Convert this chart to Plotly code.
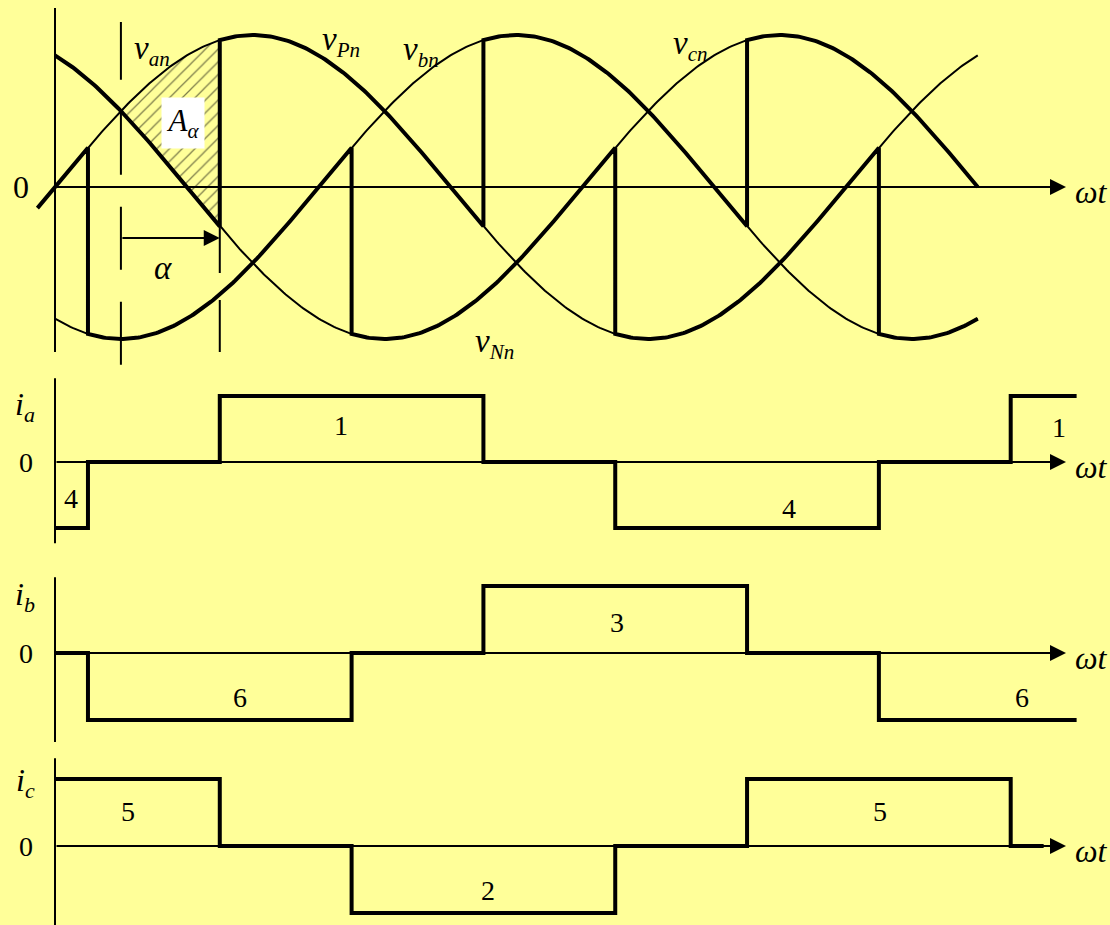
import numpy as np
import plotly.graph_objects as go

W, H = 1110, 925
BG = "#FFFF99"
FONT = "Liberation Serif"

# horizontal scale: x in electrical degrees
X_PX0 = 55          # pixel of wt = 0
PX_PER_DEG = 2.197

# phase voltages (per unit amplitude), firing delay
PHASE_SHIFT = {"a": 0, "b": 120, "c": 240}
ALPHA = 45
T_END = 420

# conducting phase of the upper (P) and lower (N) groups: (from, to, phase)
VPN_SEGMENTS = [(0, 75, "c"), (75, 195, "a"), (195, 315, "b"), (315, 420, "c")]
VNN_SEGMENTS = [(-8, 15, "a"), (15, 135, "b"), (135, 255, "c"), (255, 375, "a"), (375, 420, "b")]

# line currents (step breakpoints, per unit)
IA_T = [0, 15, 75, 195, 255, 375, 435, 465]
IA_V = [-1, 0, 1, 0, -1, 0, 1, 1]
IB_T = [0, 15, 135, 195, 315, 375, 465]
IB_V = [0, -1, 0, 1, 0, -1, -1]
IC_T = [0, 75, 135, 255, 315, 435, 450]
IC_V = [1, 0, -1, 0, 1, 0, 0]

# thyristor numbers shown in each current block
IA_LABELS = [("4", 7.5, -0.55), ("1", 130, 0.55), ("4", 334, -0.70), ("1", 457, 0.52)]
IB_LABELS = [("6", 84, -0.66), ("3", 256, 0.46), ("6", 440, -0.66)]
IC_LABELS = [("5", 33, 0.51), ("2", 197, -0.66), ("5", 375.5, 0.51)]

# panels: (axis name, zero pixel, pixels per unit)
PANELS = {"v": ("y", 187, 152), "ia": ("y2", 462, 66), "ib": ("y3", 653, 67), "ic": ("y4", 846, 67)}


def yrange(zero, unit):
    return [-(H - zero) / unit, zero / unit]


def phase(t, p):
    return np.sin(np.radians(t - PHASE_SHIFT[p]))


def piecewise(segments):
    xs, ys = [], []
    for t0, t1, p in segments:
        t = np.linspace(t0, t1, int(t1 - t0) + 1)
        xs.extend(t)
        ys.extend(phase(t, p))
    return xs, ys


def sub(base, s, size):
    return f"<i>{base}</i><sub><span style='font-size:{size}px'><i>{s}</i></span></sub>"


fig = go.Figure()
black = "black"

# vertical axes
axis_extent = {"v": (-1.086, 1.178), "ia": (-1.23, 1.27), "ib": (-1.33, 1.13), "ic": (-1.2, 1.31)}
for key, (lo, hi) in axis_extent.items():
    fig.add_trace(go.Scatter(x=[0, 0], y=[lo, hi], mode="lines", yaxis=PANELS[key][0],
                             line=dict(color=black, width=2), hoverinfo="skip"))

# hatched area A_alpha between van and vcn
t_h = np.linspace(30, 30 + ALPHA, 46)
fig.add_trace(go.Scatter(
    x=np.concatenate([t_h, t_h[::-1]]),
    y=np.concatenate([phase(t_h, "a"), phase(t_h[::-1], "c")]),
    fill="toself", mode="lines", line=dict(width=0), fillcolor="rgba(0,0,0,0)",
    fillpattern=dict(shape="/", fgcolor=black, bgcolor="rgba(0,0,0,0)", size=9, solidity=0.14),
    hoverinfo="skip"))

# thin phase voltages
t_all = np.linspace(0, T_END, T_END + 1)
for p in PHASE_SHIFT:
    fig.add_trace(go.Scatter(x=t_all, y=phase(t_all, p), mode="lines",
                             line=dict(color=black, width=2), hoverinfo="skip"))

# thick vPn and vNn
for seg in (VPN_SEGMENTS, VNN_SEGMENTS):
    xs, ys = piecewise(seg)
    fig.add_trace(go.Scatter(x=xs, y=ys, mode="lines",
                             line=dict(color=black, width=4), hoverinfo="skip"))

# dashed guide lines at natural commutation point and firing point
fig.add_trace(go.Scatter(x=[30, 30], y=[-1.17, 1.086], mode="lines",
                         line=dict(color=black, width=2, dash="63px,32px"), hoverinfo="skip"))
fig.add_trace(go.Scatter(x=[30 + ALPHA, 30 + ALPHA], y=[-1.086, -0.26], mode="lines",
                         line=dict(color=black, width=2, dash="52px,27px"), hoverinfo="skip"))

# currents
for key, tt, vv in (("ia", IA_T, IA_V), ("ib", IB_T, IB_V), ("ic", IC_T, IC_V)):
    fig.add_trace(go.Scatter(x=tt, y=vv, mode="lines", line_shape="hv", yaxis=PANELS[key][0],
                             line=dict(color=black, width=4), hoverinfo="skip"))

annotations = []
t_arrow = (1066 - X_PX0) / PX_PER_DEG
for key, (ax_name, zero, unit) in PANELS.items():
    # time axis with arrow
    annotations.append(dict(x=t_arrow, y=0, ax=0, ay=0, xref="x", yref=ax_name,
                            axref="x", ayref=ax_name, text="", showarrow=True,
                            arrowhead=2, arrowsize=1.6, arrowwidth=2, arrowcolor=black))
    annotations.append(dict(x=472, y=0, xref="x", yref=ax_name, text="<i>ωt</i>",
                            showarrow=False, yshift=-5, font=dict(size=32)))
    if key == "v":
        annotations.append(dict(x=-15.5, y=0, xref="x", yref=ax_name, text="0",
                                showarrow=False, font=dict(size=32)))
    else:
        annotations.append(dict(x=-13.2, y=0, xref="x", yref=ax_name, text="0",
                                showarrow=False, font=dict(size=28)))

# current axis names
for key, name, yv in (("ia", "a", 0.84), ("ib", "b", 0.85), ("ic", "c", 0.95)):
    annotations.append(dict(x=-13.5, y=yv, xref="x", yref=PANELS[key][0],
                            text=sub("i", name, 22),
                            showarrow=False, font=dict(size=32)))

# block numbers
for key, labels in (("ia", IA_LABELS), ("ib", IB_LABELS), ("ic", IC_LABELS)):
    for txt, xv, yv in labels:
        annotations.append(dict(x=xv, y=yv, xref="x", yref=PANELS[key][0], text=txt,
                                showarrow=False, font=dict(size=28)))

# voltage names
for txt, xv, yv in (("an", 44, 0.90), ("Pn", 130, 0.96), ("bn", 166.5, 0.89),
                    ("cn", 289, 0.93), ("Nn", 200, -1.03)):
    annotations.append(dict(x=xv, y=yv, xref="x", yref="y",
                            text=sub("v", txt, 21),
                            showarrow=False, font=dict(size=33)))

# A_alpha box
annotations.append(dict(x=58.3, y=0.42, xref="x", yref="y", text=sub("A", "α", 21),
                        showarrow=False, bgcolor="white", width=40, height=48, borderpad=1,
                        font=dict(size=31)))

# alpha arrow
annotations.append(dict(x=30 + ALPHA, y=-0.336, ax=30, ay=-0.336, xref="x", yref="y",
                        axref="x", ayref="y", text="", showarrow=True,
                        arrowhead=2, arrowsize=1.6, arrowwidth=2, arrowcolor=black))
annotations.append(dict(x=49, y=-0.53, xref="x", yref="y", text="<i>α</i>",
                        showarrow=False, font=dict(size=33)))

xr = [-X_PX0 / PX_PER_DEG, (W - X_PX0) / PX_PER_DEG]
hidden = dict(visible=False, fixedrange=True)
fig.update_layout(
    width=W, height=H,
    margin=dict(l=0, r=0, t=0, b=0),
    paper_bgcolor=BG, plot_bgcolor=BG,
    showlegend=False,
    font=dict(family=FONT, color=black, size=28),
    xaxis=dict(range=xr, **hidden),
    yaxis=dict(range=yrange(*PANELS["v"][1:]), domain=[0, 1], **hidden),
    yaxis2=dict(range=yrange(*PANELS["ia"][1:]), overlaying="y", **hidden),
    yaxis3=dict(range=yrange(*PANELS["ib"][1:]), overlaying="y", **hidden),
    yaxis4=dict(range=yrange(*PANELS["ic"][1:]), overlaying="y", **hidden),
    annotations=annotations,
)

fig.write_html("out.html", config={"displayModeBar": False},
               post_script="document.body.style.margin='0';document.body.style.background='" + BG + "';")
